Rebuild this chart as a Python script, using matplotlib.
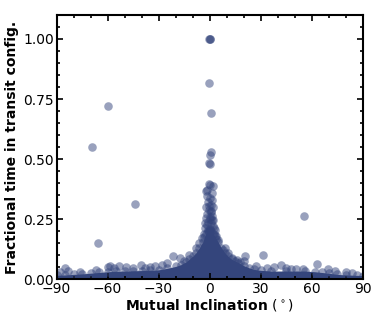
import matplotlib
matplotlib.use('Agg')
import matplotlib.pyplot as plt
from matplotlib.ticker import MultipleLocator

COLOR = '#34457c'

# dense lower region: top of the solid band
edge_x = [-90, -85, -80, -75, -70, -65, -60, -55, -50, -45, -40, -35, -30, -25,
          -20, -17, -14, -12, -10, -8, -6, -4, -3, -2, -1, 0, 1, 2, 3, 4, 5, 7,
          9, 11, 13, 15, 17, 20, 23, 26, 30, 36, 45, 56, 62, 66, 70, 75, 80, 87, 90]
edge_y = [0.016, 0.018, 0.020, 0.022, 0.025, 0.028, 0.031, 0.033, 0.034, 0.035,
          0.036, 0.037, 0.039, 0.045, 0.053, 0.060, 0.071, 0.083, 0.095, 0.110,
          0.130, 0.155, 0.175, 0.190, 0.200, 0.205, 0.200, 0.190, 0.180, 0.167,
          0.155, 0.130, 0.110, 0.095, 0.083, 0.075, 0.069, 0.057, 0.048, 0.041,
          0.037, 0.034, 0.034, 0.034, 0.031, 0.028, 0.025, 0.020, 0.018, 0.016,
          0.015]

# individual systems above the band
pts_x = [-0.4, 0.3, 0.0, -0.4, 0.6, -60.0, -69.0, -43.9, -65.9, 55.7,
         0.8, 0.2, -0.2, 0.1, -0.2, 0.2, 1.8, -1.8, 1.2, -1.2,
         -1.5, 0.5, 1.5, -0.8, 0.9, -1.9, 1.9, -0.3, 0.6, -1.2, 1.4, -2.2, 0.2,
         2.3, -0.9, 1.0, -1.6, 2.0, -2.8, 0.5, 3.0, -0.3, -3.3, 2.6, 4.0, -4.2, 5.0,
         -0.6, 1.1, -2.5, 2.8, 0.0, -1.0, 1.6,
         31.2, 20.8, -21.4, -17.5, 63.0, -58.6, -40.4, 42.0, -85.0, 27.6, 9.0, 11.0,
         15.9, -32.0, -53.0, -49.0, 69.4, 55.0, -25.0, -60.0, -83.0, 20.5, 8.0, 18.0,
         38.0, 48.0, -45.0, -35.0, -28.0, -12.0, -8.0, -6.0, 13.0, -88.0, -76.0,
         -67.0, 74.0, 80.0, 84.0, 34.0, 45.0, 51.0, -56.0, -38.0, -15.0]
pts_y = [1.000, 1.000, 1.000, 0.815, 0.692, 0.721, 0.550, 0.313, 0.149, 0.265,
         0.528, 0.516, 0.485, 0.480, 0.397, 0.394, 0.386, 0.367, 0.360, 0.372,
         0.345, 0.340, 0.330, 0.320, 0.310, 0.300, 0.300, 0.290, 0.280, 0.270, 0.265,
         0.255, 0.250, 0.245, 0.240, 0.235, 0.225, 0.220, 0.215, 0.210, 0.205, 0.200,
         0.190, 0.190, 0.180, 0.170, 0.165,
         0.305, 0.285, 0.235, 0.215, 0.260, 0.205, 0.245,
         0.099, 0.095, 0.097, 0.088, 0.063, 0.056, 0.058, 0.060, 0.045, 0.053, 0.130,
         0.109, 0.080, 0.056, 0.056, 0.050, 0.042, 0.042, 0.067, 0.052, 0.035, 0.075,
         0.120, 0.070, 0.050, 0.042, 0.045, 0.050, 0.060, 0.100, 0.130, 0.150, 0.090,
         0.030, 0.032, 0.038, 0.035, 0.028, 0.027, 0.045, 0.045, 0.043, 0.045, 0.048,
         0.075]

fig = plt.figure(figsize=(3.82, 3.18), dpi=100)
ax = fig.add_axes([0.148, 0.122, 0.801, 0.831])

ax.fill_between(edge_x, 0, edge_y, color=COLOR, lw=0, zorder=1)
ax.scatter(edge_x, edge_y, s=38, color=COLOR, alpha=0.5, lw=0, zorder=2)
ax.scatter(pts_x, pts_y, s=38, color=COLOR, alpha=0.5, lw=0, zorder=2)

ax.set_xlim(-90, 90)
ax.set_ylim(0, 1.1)
ax.xaxis.set_major_locator(MultipleLocator(30))
ax.xaxis.set_minor_locator(MultipleLocator(10))
ax.yaxis.set_major_locator(MultipleLocator(0.25))
ax.yaxis.set_minor_locator(MultipleLocator(0.05))
ax.tick_params(which='both', direction='in', top=True, right=True, width=1.2)
ax.tick_params(which='major', length=4, labelsize=10, pad=2)
ax.tick_params(which='minor', length=2)
for spine in ax.spines.values():
    spine.set_linewidth(1.5)

ax.set_xlabel(r'Mutual Inclination $(^\circ)$', fontsize=10, fontweight='bold', labelpad=1)
ax.set_ylabel('Fractional time in transit config.', fontsize=10, fontweight='bold', labelpad=3)

fig.savefig('out.png', dpi=100)
